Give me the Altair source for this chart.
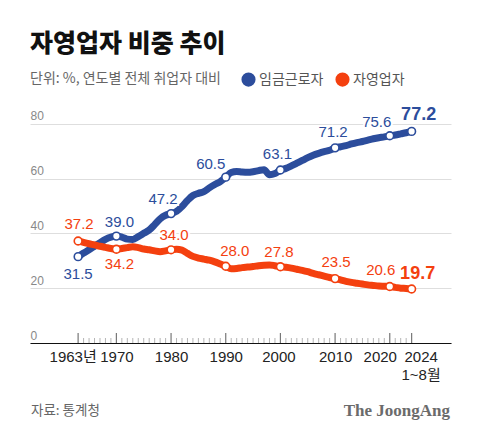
import altair as alt
import pandas as pd

# ---------------- data ----------------
years = list(range(1963, 2025))
wage = [31.5, 32.8, 34.0, 35.3, 36.6, 37.8, 38.6, 39.0, 38.6, 37.9,
        37.8, 38.8, 40.0, 41.2, 43.2, 45.3, 46.6, 47.2, 48.0, 49.8,
        52.0, 53.8, 54.6, 55.2, 56.6, 57.8, 58.9, 60.5, 62.2, 62.6,
        62.4, 62.3, 62.5, 62.9, 63.2, 61.4, 61.8, 63.1, 63.7, 64.6,
        65.6, 66.6, 67.6, 68.5, 69.2, 69.8, 70.3, 71.2, 71.6, 72.0,
        72.6, 73.1, 73.5, 74.0, 74.5, 74.9, 75.2, 75.6, 75.9, 76.3,
        76.7, 77.2]
self_emp = [37.2, 36.7, 36.2, 35.8, 35.3, 34.9, 34.5, 34.2, 34.5, 34.8,
            35.1, 34.8, 34.3, 34.0, 33.6, 33.3, 33.6, 34.0, 34.2, 33.9,
            32.7, 31.6, 31.0, 30.6, 30.2, 29.6, 28.8, 28.0, 27.1, 27.2,
            27.5, 27.7, 27.9, 28.2, 28.4, 28.5, 28.2, 27.8, 27.6, 27.3,
            26.9, 26.5, 26.0, 25.4, 24.9, 24.4, 23.9, 23.5, 23.0, 22.5,
            22.1, 21.8, 21.5, 21.2, 21.0, 20.8, 20.7, 20.6, 20.3, 20.0,
            19.9, 19.7]
series_names = ["임금근로자", "자영업자"]
label_years = [1963, 1970, 1980, 1990, 2000, 2010, 2020, 2024]
x_tick_labels = [["1963년"], ["1970"], ["1980"], ["1990"], ["2000"],
                 ["2010"], ["2020"], ["2024", "1~8월"]]
y_ticks = [0, 20, 40, 60, 80]
title_text = "자영업자 비중 추이"
subtitle_text = "단위: %, 연도별 전체 취업자 대비"
source_text = "자료: 통계청"
brand_text = "The JoongAng"

# ---------------- layout / style ----------------
W, H = 421, 233
X_DOMAIN = [1954.2, 2031.2]
Y_DOMAIN = [0, 85]
PXX = W / (X_DOMAIN[1] - X_DOMAIN[0])
PXY = H / (Y_DOMAIN[1] - Y_DOMAIN[0])
BLUE = "#2c4d9c"
ORANGE = "#f4400f"
BLUE_TXT = "#2c4d9c"
ORANGE_TXT = "#f0441a"
SANS = "Liberation Sans, Noto Sans CJK KR, sans-serif"
CJK = "Noto Sans CJK KR, sans-serif"

# label placement (pixel offsets from point, per series, per labelled year)
OFFS = {
    "임금근로자": [(0, 17), (3, -14), (-8, -15), (-15, -13), (-3, -16), (-2, -16), (-13, -14), (7, -16)],
    "자영업자": [(1, -17), (3, 15), (3, -15), (9, -15), (-1.5, -15), (1, -16.5), (-9, -17), (6, -15)],
}
# horizontal nudges of individual x tick labels (pixels)
TICK_NUDGE = {1963: -5.5, 2000: -2, 2020: -10, 2024: 9}

rows = []
for y, a, b in zip(years, wage, self_emp):
    rows.append({"year": y, "value": a, "series": series_names[0]})
    rows.append({"year": y, "value": b, "series": series_names[1]})
df = pd.DataFrame(rows)
pts = df[df["year"].isin(label_years)].copy()

lab_rows = []
for s in series_names:
    sub = pts[pts["series"] == s].sort_values("year")
    for (dx, dy), (_, r) in zip(OFFS[s], sub.iterrows()):
        lab_rows.append({
            "year": r["year"], "value": r["value"], "series": s,
            "lx": r["year"] + dx / PXX, "ly": r["value"] - dy / PXY,
            "last": r["year"] == label_years[-1],
        })
labs = pd.DataFrame(lab_rows)

major = pd.DataFrame({"year": label_years})
minor = pd.DataFrame({"year": [y for y in years if y not in label_years]})

# x axis label expression from tick label list
expr = "''"
for yv, lines in reversed(list(zip(label_years, x_tick_labels))):
    val = "[" + ",".join("'" + t + "'" for t in lines) + "]" if len(lines) > 1 else "'" + lines[0] + "'"
    expr = f"datum.value == {yv} ? {val} : ({expr})"

off_expr = "0"
for yv, nd in TICK_NUDGE.items():
    off_expr = f"datum.value == {yv} ? {nd} : ({off_expr})"

xs = alt.Scale(domain=X_DOMAIN, nice=False, zero=False)
ys = alt.Scale(domain=Y_DOMAIN, nice=False)
cscale = alt.Scale(domain=series_names, range=[BLUE, ORANGE])
tscale = alt.Scale(domain=series_names, range=[BLUE_TXT, ORANGE_TXT])

x_axis = alt.Axis(values=label_years, labelExpr=expr, grid=False, ticks=False,
                  domain=True, domainColor="#111", domainWidth=1, labelFontSize=15,
                  labelColor="#222", labelFont=SANS, labelPadding=6, labelLineHeight=18,
                  labelOffset={"expr": off_expr},
                  labelOverlap=False, labelFlush=False, labelBound=False, title=None)
y_axis = alt.Axis(values=y_ticks, grid=True, gridColor="#dedede", gridWidth=1,
                  domain=False, ticks=False, tickSize=0, labelAlign="left",
                  labelBaseline="alphabetic", labelPadding=0, labelOffset=-4,
                  labelFontSize=12, labelColor="#888", labelFont=SANS, title=None)

X = lambda f="year:Q": alt.X(f, scale=xs, axis=x_axis)
Y = lambda f="value:Q": alt.Y(f, scale=ys, axis=y_axis)

lines = alt.Chart(df).mark_line(strokeWidth=7, strokeCap="round", strokeJoin="round",
                                interpolate="monotone").encode(
    x=X(), y=Y(),
    color=alt.Color("series:N", scale=cscale, sort=series_names,
                    legend=alt.Legend(orient="none", legendX=211, legendY=-38,
                                      direction="horizontal", title=None,
                                      symbolType="circle", symbolSize=44,
                                      symbolStrokeWidth=7.5, labelFontSize=14,
                                      labelColor="#555", labelFont=CJK,
                                      labelOffset=3, columnPadding=0, padding=0)),
    detail="series:N",
)

major_ticks = alt.Chart(major).mark_rule(color="#777", strokeWidth=1.2).encode(
    x=X(), y=alt.value(H), y2=alt.value(H - 10))
minor_ticks = alt.Chart(minor).mark_rule(color="#b5b5b5", strokeWidth=1).encode(
    x=X(), y=alt.value(H), y2=alt.value(H - 5))

points = alt.Chart(pts).mark_point(filled=False, fill="white", size=60,
                                   strokeWidth=1.6, opacity=1, shape="circle").encode(
    x=X(), y=Y(),
    stroke=alt.Stroke("series:N", scale=cscale, legend=None),
)

def label_layer(last, halo):
    d = labs[labs["last"] == last]
    kw = dict(fontSize=18 if last else 15, fontWeight="bold" if last else "normal",
              font=SANS, baseline="middle", align="center")
    if halo:
        m = alt.Chart(d).mark_text(stroke="white", strokeWidth=4, fill="white", **kw)
        enc = {}
    else:
        m = alt.Chart(d).mark_text(**kw)
        enc = {"color": alt.Color("series:N", scale=tscale, legend=None)}
    return m.encode(x=X("lx:Q"), y=Y("ly:Q"),
                    text=alt.Text("value:Q", format=".1f"), **enc)

def fixed_text(txt, x, y, **kw):
    return alt.Chart(pd.DataFrame({"t": [txt]})).mark_text(baseline="middle", **kw).encode(
        text="t:N", x=alt.value(x), y=alt.value(y))

title = fixed_text(title_text, 0, -66, align="left", fontSize=25, font=CJK,
                   fontWeight=900, color="#111")
subtitle = fixed_text(subtitle_text, 0, -31, align="left", fontSize=14, font=CJK, color="#666")
source = fixed_text(source_text, 1, 301, align="left", fontSize=13.5, font=CJK, color="#666")
brand = fixed_text(brand_text, 420, 301, align="right", fontSize=17,
                   font="Liberation Serif, DejaVu Serif, serif", fontWeight="bold",
                   color="#6b6b6b")

chart = alt.layer(
    major_ticks, minor_ticks, lines, points,
    label_layer(False, True), label_layer(True, True),
    label_layer(False, False), label_layer(True, False),
    title, subtitle, source, brand,
).properties(
    width=W, height=H,
    background="white",
    autosize=alt.AutoSizeParams(type="none"),
    padding={"left": 22, "top": 102, "right": 21, "bottom": 89},
).configure_view(
    strokeWidth=0, strokeOpacity=0, stroke="transparent"
).configure_axisY(domain=False, ticks=False).configure_axisX(grid=False)

chart.save("out.html", embed_options={"renderer": "svg", "actions": False})
